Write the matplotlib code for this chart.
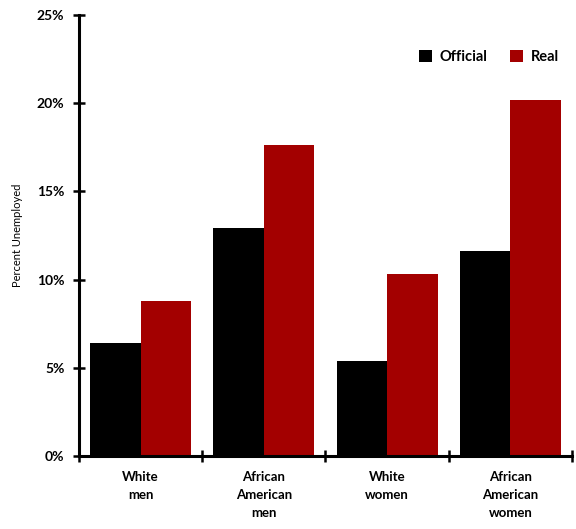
import matplotlib.pyplot as plt
import numpy as np

groups = ['White\nmen', 'African\nAmerican\nmen', 'White\nwomen', 'African\nAmerican\nwomen']
official = [6.4, 12.9, 5.4, 11.6]
real = [8.8, 17.6, 10.3, 20.2]
yticks = [0, 5, 10, 15, 20, 25]

plt.rcParams['font.family'] = ['Lato', 'DejaVu Sans']

fig = plt.figure(figsize=(5.76, 5.29), dpi=100)
ax = fig.add_axes([0.137, 0.138, 0.856, 0.834])

x = np.arange(len(groups)) + 0.5
w = 0.41
ax.bar(x - w / 2, official, w, color='black', label='Official')
ax.bar(x + w / 2, real, w, color='#a30000', label='Real')

ax.set_xlim(0, 4)
ax.set_ylim(0, 25)

# axis styling: only left and bottom, thick black lines with crossing ticks
for s in ['top', 'right']:
    ax.spines[s].set_visible(False)
for s in ['left', 'bottom']:
    ax.spines[s].set_linewidth(2.2)

ax.set_yticks(yticks)
ax.set_yticklabels([f'{v}%' for v in yticks], fontsize=10, fontweight='bold')
ax.tick_params(axis='y', direction='inout', length=9, width=1.8, pad=6)

ax.set_xticks(np.arange(0, 5))
ax.set_xticklabels([])
ax.tick_params(axis='x', which='major', direction='inout', length=9, width=1.8)
ax.set_xticks(x, minor=True)
ax.set_xticklabels(groups, minor=True, fontsize=9.5, fontweight='bold', linespacing=1.6)
ax.tick_params(axis='x', which='minor', length=0, pad=11)

ax.set_ylabel('Percent Unemployed', fontsize=8, labelpad=10)

ax.legend(loc='upper right', bbox_to_anchor=(1.0, 0.95), frameon=False, ncol=2,
          prop={'size': 10.5, 'weight': 'bold'}, handlelength=0.9, handleheight=0.9,
          handletextpad=0.5, columnspacing=1.6)

fig.savefig('out.png', dpi=100)
